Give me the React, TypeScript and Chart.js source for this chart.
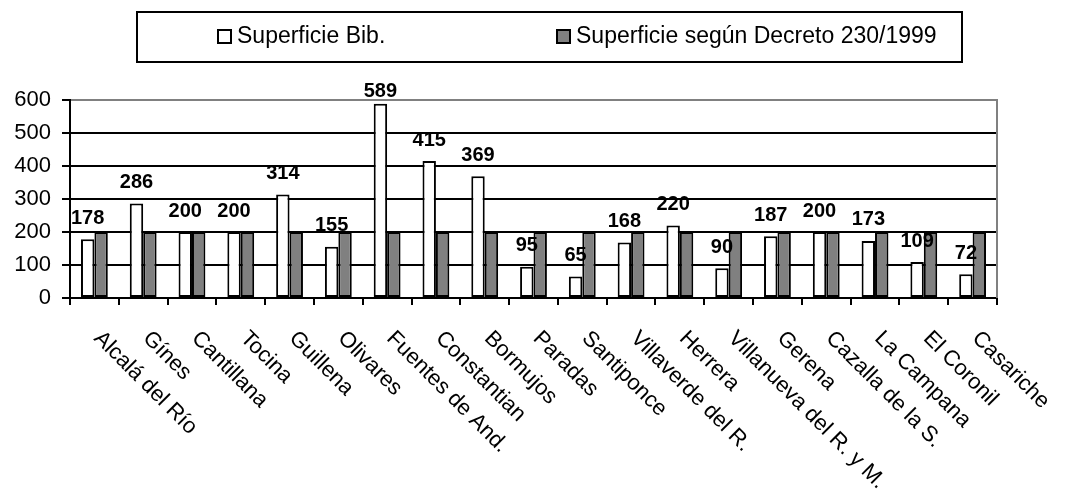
import React, { useEffect, useRef } from 'react';
import { Chart, registerables } from 'chart.js';

Chart.register(...registerables);

const categories = [
  'Alcalá del Río', 'Gínes', 'Cantillana', 'Tocina', 'Guillena', 'Olivares',
  'Fuentes de And.', 'Constantian', 'Bormujos', 'Paradas', 'Santiponce',
  'Villaverde del R.', 'Herrera', 'Villanueva del R. y M.', 'Gerena',
  'Cazalla de la S.', 'La Campana', 'El Coronil', 'Casariche',
];
const superficieBib = [178, 286, 200, 200, 314, 155, 589, 415, 369, 95, 65, 168, 220, 90, 187, 200, 173, 109, 72];
const superficieDecreto = [200, 200, 200, 200, 200, 200, 200, 200, 200, 200, 200, 200, 200, 200, 200, 200, 200, 200, 200];
const seriesNames = ['Superficie Bib.', 'Superficie según Decreto 230/1999'];
const yMin = 0;
const yMax = 600;
const yStep = 100;

const FONT = "'Liberation Sans', Arial, sans-serif";

const customPlugin = {
  id: 'customDraw',
  afterDatasetsDraw(chart: any) {
    const ctx = chart.ctx;
    const { right, top, bottom } = chart.chartArea;
    ctx.save();
    // right border of plot area
    ctx.strokeStyle = '#808080';
    ctx.lineWidth = 2;
    ctx.beginPath();
    ctx.moveTo(right, top - 1);
    ctx.lineTo(right, bottom);
    ctx.stroke();

    // data labels for first series
    const meta = chart.getDatasetMeta(0);
    ctx.fillStyle = '#000';
    ctx.font = `bold 20px ${FONT}`;
    ctx.textAlign = 'center';
    ctx.textBaseline = 'middle';
    meta.data.forEach((bar: any, i: number) => {
      const y = Math.max(bar.y - 21, top - 9);
      ctx.fillText(String(superficieBib[i]), bar.x, y);
    });

    // category labels, rotated 45deg clockwise
    const xScale = chart.scales.x;
    ctx.font = `22px ${FONT}`;
    ctx.textAlign = 'left';
    ctx.textBaseline = 'middle';
    categories.forEach((c, i) => {
      const x = xScale.getPixelForValue(i) + 3;
      const y = bottom + 37;
      ctx.save();
      ctx.translate(x, y);
      ctx.rotate(Math.PI / 4);
      ctx.fillText(c, 0, 0);
      ctx.restore();
    });

    // legend box
    const lx = 137, ly = 12, lw = 825, lh = 50;
    ctx.strokeStyle = '#000';
    ctx.lineWidth = 2;
    ctx.strokeRect(lx, ly, lw, lh);
    const itemX = [218, 557];
    ctx.font = `23px ${FONT}`;
    ctx.textAlign = 'left';
    ctx.textBaseline = 'middle';
    chart.data.datasets.forEach((ds: any, i: number) => {
      const x = itemX[i];
      ctx.fillStyle = ds.backgroundColor;
      ctx.fillRect(x, 30, 13, 13);
      ctx.strokeStyle = '#000';
      ctx.lineWidth = 2;
      ctx.strokeRect(x, 30, 13, 13);
      ctx.fillStyle = '#000';
      ctx.fillText(ds.label, x + 19, 37);
    });
    ctx.restore();
  },
};

export default function App() {
  const canvasRef = useRef<HTMLCanvasElement | null>(null);

  useEffect(() => {
    if (!canvasRef.current) return;
    const chart = new Chart(canvasRef.current, {
      type: 'bar',
      data: {
        labels: categories,
        datasets: [
          {
            label: seriesNames[0],
            data: superficieBib,
            backgroundColor: '#ffffff',
            borderColor: '#000000',
            borderWidth: 2,
            borderSkipped: false,
            categoryPercentage: 0.55,
            barPercentage: 1.0,
          },
          {
            label: seriesNames[1],
            data: superficieDecreto,
            backgroundColor: '#808080',
            borderColor: '#000000',
            borderWidth: 2,
            borderSkipped: false,
            categoryPercentage: 0.55,
            barPercentage: 1.0,
          },
        ],
      },
      options: {
        animation: false,
        responsive: true,
        maintainAspectRatio: false,
        layout: { padding: { top: 100, left: 0, right: 69, bottom: 197 } },
        plugins: {
          legend: { display: false },
          tooltip: { enabled: false },
        },
        scales: {
          x: {
            grid: {
              offset: true,
              drawOnChartArea: false,
              drawTicks: true,
              tickLength: 7,
              color: '#000',
              lineWidth: 2,
            },
            border: { display: true, color: '#000', width: 2 },
            ticks: { display: false },
            afterFit: (s: any) => {
              s.height = 7;
              s.paddingLeft = 0;
              s.paddingRight = 0;
            },
          },
          y: {
            min: yMin,
            max: yMax,
            grid: {
              color: (c: any) => (c.tick && c.tick.value === yMax ? '#808080' : '#000000'),
              tickColor: '#000000',
              lineWidth: 2,
              tickLength: 8,
            },
            border: { display: true, color: '#000', width: 2 },
            ticks: {
              stepSize: yStep,
              color: '#000',
              padding: 11,
              font: { family: FONT, size: 22 },
            },
            afterFit: (s: any) => {
              s.width = 70;
              s.paddingTop = 0;
              s.paddingBottom = 0;
            },
          },
        },
      },
      plugins: [customPlugin],
    });
    return () => chart.destroy();
  }, []);

  return (
    <div style={{ position: 'fixed', left: 0, top: 0, width: 1066, height: 502, background: '#fff' }}>
      <canvas ref={canvasRef} />
    </div>
  );
}
